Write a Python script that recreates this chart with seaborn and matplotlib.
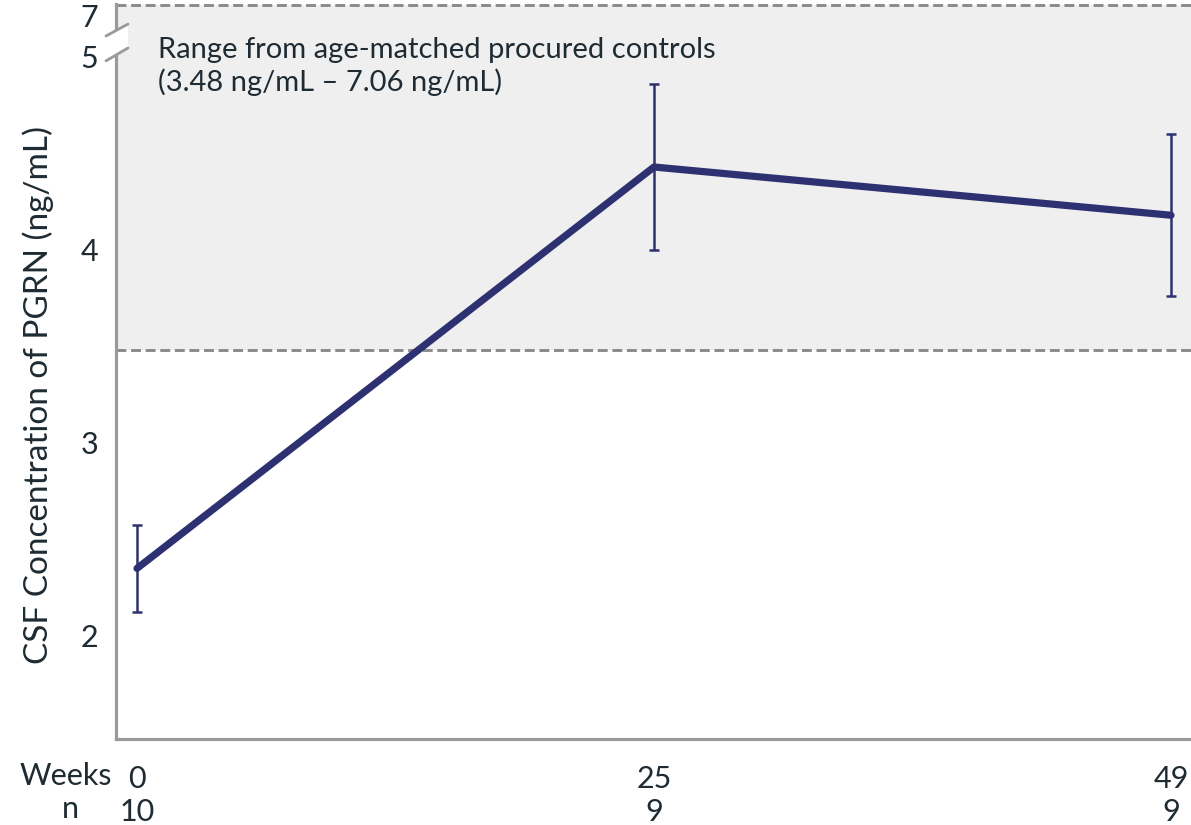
import numpy as np
import pandas as pd
import matplotlib
matplotlib.use("Agg")
import matplotlib.pyplot as plt
from matplotlib.patches import Polygon
from matplotlib.lines import Line2D
import seaborn as sns

# Visit data
weeks = ["0", "25", "49"]
n_subjects = ["10", "9", "9"]
pgrn_mean = [2.35, 4.43, 4.18]
pgrn_err = [0.225, 0.43, 0.42]

# Reference range from age-matched controls
ref_low = 3.48
ref_high = 7.06

y_ticks = [2, 3, 4, 5, 7]

sns.set_theme(style="white")
plt.rcParams["font.family"] = ["Lato", "DejaVu Sans"]

TEXT = "#1f2b33"
NAVY = "#2e3171"
SPINE = "#9a9a9a"
SHADE = "#efefef"
DASH = "#8a8a8a"

# Broken y scale: 5-7 compressed, short stretch above 7 for the upper limit
Y_PTS = np.array([-10.0, 5.0, 7.0, 10.0])
U_PTS = np.array([-10.0, 5.0, 5.2176, 5.2176 + 3 * 0.864])


def fwd(y):
    return np.interp(y, Y_PTS, U_PTS)


def inv(u):
    return np.interp(u, U_PTS, Y_PTS)


W, H = 1191, 825
fig = plt.figure(figsize=(W / 100, H / 100), dpi=100)
left, right, top, bottom = 116, 1191, 4, 739
ax = fig.add_axes([left / W, 1 - bottom / H, (right - left) / W, (bottom - top) / H])

df = pd.DataFrame({"pos": np.arange(len(weeks)), "pgrn": pgrn_mean})

ax.set_yscale("function", functions=(fwd, inv))
ax.set_xlim(-0.0406, 2.0387)
ax.set_ylim(1.466, 7.066)

# shaded control range
ax.axhspan(ref_low, ref_high, color=SHADE, zorder=0, lw=0)
for yv in (ref_low, ref_high):
    ax.axhline(yv, color=DASH, lw=2.1, dashes=(3.4, 1.6), zorder=1)

sns.lineplot(data=df, x="pos", y="pgrn", ax=ax, color=NAVY, lw=5.2,
             solid_capstyle="round", zorder=3)
ax.errorbar(df["pos"], df["pgrn"], yerr=pgrn_err, fmt="none", ecolor=NAVY,
            elinewidth=1.8, capsize=3.6, capthick=1.8, zorder=4)

ax.text(0.039, 4.95, "Range from age-matched procured controls\n(3.48 ng/mL \u2013 7.06 ng/mL)",
        transform=ax.get_yaxis_transform(), ha="left", va="center",
        fontsize=21, color=TEXT, linespacing=1.22)

# axes styling
for s in ("top", "right"):
    ax.spines[s].set_visible(False)
for s in ("left", "bottom"):
    ax.spines[s].set_color(SPINE)
    ax.spines[s].set_linewidth(2.3)

ax.set_yticks(y_ticks)
ax.set_yticklabels([str(t) for t in y_ticks])
ax.set_xticks(df["pos"])
ax.set_xticklabels([f"{w}\n{n}" for w, n in zip(weeks, n_subjects)])
ax.tick_params(axis="both", which="both", direction="out", length=5, width=2,
               color=SPINE, labelcolor=TEXT, labelsize=22)
ax.tick_params(axis="x", pad=14)
ax.tick_params(axis="y", pad=8)
for lab in ax.get_xticklabels():
    lab.set_linespacing(1.2)
ax.minorticks_off()
ax.set_xlabel("")
ax.set_ylabel("")

# y-axis title
fig.text(38 / W, 1 - 395 / H, "CSF Concentration of PGRN (ng/mL)", rotation=90,
         ha="center", va="center", fontsize=24, color=TEXT)

# row headers for the x tick table
fig.text(112 / W, 1 - 776 / H, "Weeks", ha="right", va="center", fontsize=22, color=TEXT)
fig.text(70 / W, 1 - 809 / H, "n", ha="center", va="center", fontsize=22, color=TEXT)

# axis break marks
ytr = ax.get_yaxis_transform()
x0, x1 = -0.0093, 0.0112
gap = Polygon([(x0, 4.98), (x1, 5.43), (x1, 6.57), (x0, 6.0)], closed=True,
              facecolor="white", edgecolor="none", transform=ytr, clip_on=False, zorder=5)
ax.add_patch(gap)
for ya, yb in ((4.98, 5.43), (6.0, 6.57)):
    ax.add_line(Line2D([x0, x1], [ya, yb], color=SPINE, lw=2.0, transform=ytr,
                       clip_on=False, zorder=6))

fig.savefig("out.png", dpi=100)
